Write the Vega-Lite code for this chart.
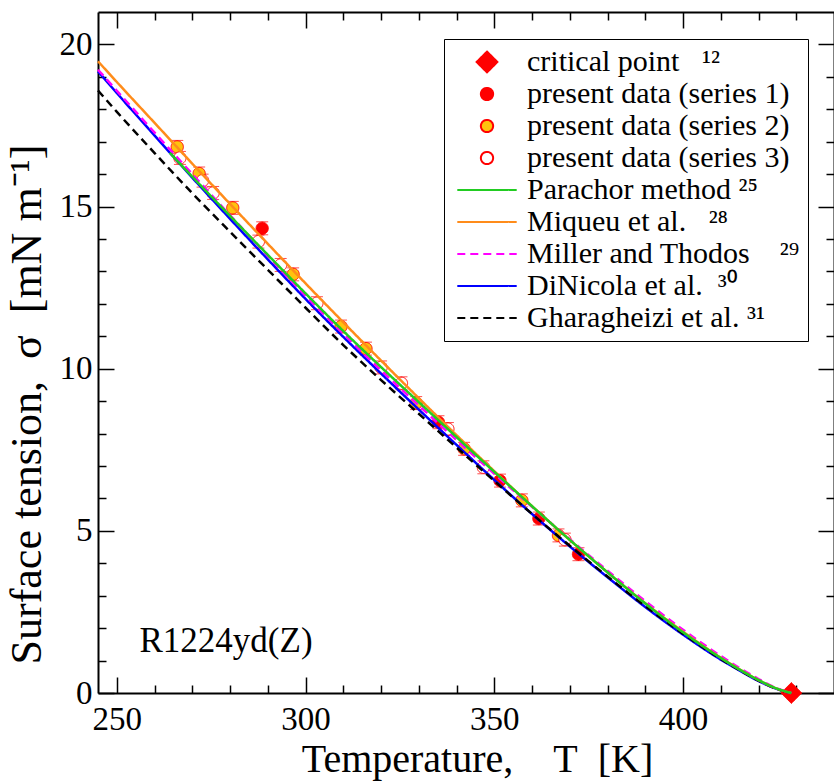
{
  "$schema": "https://vega.github.io/schema/vega-lite/v6.json",
  "width": 736,
  "height": 681,
  "autosize": "none",
  "padding": {"left": 98, "top": 12, "right": 0, "bottom": 89},
  "background": "white",
  "config": {
    "view": {"stroke": null},
    "font": "Liberation Serif",
    "style": {
      "guide-label": {"font": "Liberation Serif", "fill": "black"},
      "guide-title": {"font": "Liberation Serif", "fill": "black", "fontWeight": "normal"}
    },
    "axis": {
      "grid": false,
      "domainColor": "black",
      "domainWidth": 2,
      "tickColor": "black",
      "tickWidth": 1.5,
      "labelColor": "black",
      "labelFont": "Liberation Serif",
      "labelFontSize": 33,
      "titleFont": "Liberation Serif",
      "titleFontWeight": "normal",
      "titleColor": "black",
      "titleFontSize": 40,
      "labelOverlap": false,
      "labelFlush": false
    },
    "legend": {
      "orient": "none",
      "legendX": 346,
      "legendY": 27,
      "padding": 8,
      "strokeColor": "black",
      "fillColor": "white",
      "labelFont": "Liberation Serif",
      "labelFontSize": 30,
      "labelColor": "black",
      "labelOffset": 25,
      "symbolOffset": 20,
      "rowPadding": 2,
      "symbolSize": 150,
      "symbolStrokeWidth": 2,
      "labelLimit": 500
    }
  },
  "datasets": {
    "pts": [
      {"series": "present data (series 1)", "T": 288.5, "sigma": 14.33, "err": 0.2},
      {"series": "present data (series 1)", "T": 335.2, "sigma": 8.35, "err": 0.2},
      {"series": "present data (series 1)", "T": 351.5, "sigma": 6.55, "err": 0.2},
      {"series": "present data (series 1)", "T": 361.8, "sigma": 5.38, "err": 0.2},
      {"series": "present data (series 1)", "T": 372.3, "sigma": 4.28, "err": 0.2},
      {"series": "present data (series 2)", "T": 266.0, "sigma": 16.84, "err": 0.2},
      {"series": "present data (series 2)", "T": 271.8, "sigma": 16.02, "err": 0.2},
      {"series": "present data (series 2)", "T": 280.7, "sigma": 14.96, "err": 0.2},
      {"series": "present data (series 2)", "T": 296.7, "sigma": 12.91, "err": 0.2},
      {"series": "present data (series 2)", "T": 309.4, "sigma": 11.30, "err": 0.2},
      {"series": "present data (series 2)", "T": 316.0, "sigma": 10.62, "err": 0.2},
      {"series": "present data (series 2)", "T": 329.3, "sigma": 8.94, "err": 0.2},
      {"series": "present data (series 2)", "T": 342.0, "sigma": 7.53, "err": 0.2},
      {"series": "present data (series 2)", "T": 357.3, "sigma": 5.94, "err": 0.2},
      {"series": "present data (series 2)", "T": 367.0, "sigma": 4.86, "err": 0.2},
      {"series": "present data (series 3)", "T": 266.7, "sigma": 16.50, "err": 0.2},
      {"series": "present data (series 3)", "T": 272.7, "sigma": 15.80, "err": 0.2},
      {"series": "present data (series 3)", "T": 275.5, "sigma": 15.42, "err": 0.2},
      {"series": "present data (series 3)", "T": 287.5, "sigma": 13.92, "err": 0.2},
      {"series": "present data (series 3)", "T": 293.4, "sigma": 13.20, "err": 0.2},
      {"series": "present data (series 3)", "T": 303.0, "sigma": 12.02, "err": 0.2},
      {"series": "present data (series 3)", "T": 320.0, "sigma": 10.04, "err": 0.2},
      {"series": "present data (series 3)", "T": 325.4, "sigma": 9.55, "err": 0.2},
      {"series": "present data (series 3)", "T": 337.7, "sigma": 8.14, "err": 0.2},
      {"series": "present data (series 3)", "T": 347.1, "sigma": 6.96, "err": 0.2},
      {"series": "present data (series 3)", "T": 368.7, "sigma": 4.73, "err": 0.2},
      {"series": "critical point", "T": 428.7, "sigma": 0, "err": 0}
    ],
    "curves": [
      {"series": "DiNicola et al.", "T": 245, "sigma": 19.17},
      {"series": "DiNicola et al.", "T": 250, "sigma": 18.50},
      {"series": "DiNicola et al.", "T": 260, "sigma": 17.19},
      {"series": "DiNicola et al.", "T": 270, "sigma": 15.89},
      {"series": "DiNicola et al.", "T": 280, "sigma": 14.62},
      {"series": "DiNicola et al.", "T": 290, "sigma": 13.37},
      {"series": "DiNicola et al.", "T": 300, "sigma": 12.15},
      {"series": "DiNicola et al.", "T": 310, "sigma": 10.98},
      {"series": "DiNicola et al.", "T": 320, "sigma": 9.85},
      {"series": "DiNicola et al.", "T": 330, "sigma": 8.74},
      {"series": "DiNicola et al.", "T": 340, "sigma": 7.65},
      {"series": "DiNicola et al.", "T": 350, "sigma": 6.57},
      {"series": "DiNicola et al.", "T": 360, "sigma": 5.52},
      {"series": "DiNicola et al.", "T": 370, "sigma": 4.52},
      {"series": "DiNicola et al.", "T": 380, "sigma": 3.57},
      {"series": "DiNicola et al.", "T": 390, "sigma": 2.65},
      {"series": "DiNicola et al.", "T": 400, "sigma": 1.80},
      {"series": "DiNicola et al.", "T": 410, "sigma": 1.03},
      {"series": "DiNicola et al.", "T": 415, "sigma": 0.69},
      {"series": "DiNicola et al.", "T": 420, "sigma": 0.37},
      {"series": "DiNicola et al.", "T": 425, "sigma": 0.12},
      {"series": "DiNicola et al.", "T": 428.7, "sigma": 0},
      {"series": "Gharagheizi et al.", "T": 245, "sigma": 18.58},
      {"series": "Gharagheizi et al.", "T": 250, "sigma": 17.92},
      {"series": "Gharagheizi et al.", "T": 260, "sigma": 16.65},
      {"series": "Gharagheizi et al.", "T": 270, "sigma": 15.41},
      {"series": "Gharagheizi et al.", "T": 280, "sigma": 14.22},
      {"series": "Gharagheizi et al.", "T": 290, "sigma": 13.05},
      {"series": "Gharagheizi et al.", "T": 300, "sigma": 11.88},
      {"series": "Gharagheizi et al.", "T": 310, "sigma": 10.73},
      {"series": "Gharagheizi et al.", "T": 320, "sigma": 9.65},
      {"series": "Gharagheizi et al.", "T": 330, "sigma": 8.61},
      {"series": "Gharagheizi et al.", "T": 340, "sigma": 7.57},
      {"series": "Gharagheizi et al.", "T": 350, "sigma": 6.54},
      {"series": "Gharagheizi et al.", "T": 360, "sigma": 5.52},
      {"series": "Gharagheizi et al.", "T": 370, "sigma": 4.54},
      {"series": "Gharagheizi et al.", "T": 380, "sigma": 3.59},
      {"series": "Gharagheizi et al.", "T": 390, "sigma": 2.68},
      {"series": "Gharagheizi et al.", "T": 400, "sigma": 1.83},
      {"series": "Gharagheizi et al.", "T": 410, "sigma": 1.05},
      {"series": "Gharagheizi et al.", "T": 415, "sigma": 0.70},
      {"series": "Gharagheizi et al.", "T": 420, "sigma": 0.38},
      {"series": "Gharagheizi et al.", "T": 425, "sigma": 0.12},
      {"series": "Gharagheizi et al.", "T": 428.7, "sigma": 0},
      {"series": "Miller and Thodos", "T": 245, "sigma": 19.22},
      {"series": "Miller and Thodos", "T": 250, "sigma": 18.57},
      {"series": "Miller and Thodos", "T": 260, "sigma": 17.28},
      {"series": "Miller and Thodos", "T": 270, "sigma": 16.00},
      {"series": "Miller and Thodos", "T": 280, "sigma": 14.73},
      {"series": "Miller and Thodos", "T": 290, "sigma": 13.48},
      {"series": "Miller and Thodos", "T": 300, "sigma": 12.25},
      {"series": "Miller and Thodos", "T": 310, "sigma": 11.08},
      {"series": "Miller and Thodos", "T": 320, "sigma": 9.95},
      {"series": "Miller and Thodos", "T": 330, "sigma": 8.87},
      {"series": "Miller and Thodos", "T": 340, "sigma": 7.80},
      {"series": "Miller and Thodos", "T": 350, "sigma": 6.76},
      {"series": "Miller and Thodos", "T": 360, "sigma": 5.74},
      {"series": "Miller and Thodos", "T": 370, "sigma": 4.74},
      {"series": "Miller and Thodos", "T": 380, "sigma": 3.77},
      {"series": "Miller and Thodos", "T": 390, "sigma": 2.83},
      {"series": "Miller and Thodos", "T": 400, "sigma": 1.95},
      {"series": "Miller and Thodos", "T": 410, "sigma": 1.14},
      {"series": "Miller and Thodos", "T": 415, "sigma": 0.77},
      {"series": "Miller and Thodos", "T": 420, "sigma": 0.43},
      {"series": "Miller and Thodos", "T": 425, "sigma": 0.14},
      {"series": "Miller and Thodos", "T": 428.7, "sigma": 0},
      {"series": "Miqueu et al.", "T": 245, "sigma": 19.48},
      {"series": "Miqueu et al.", "T": 250, "sigma": 18.84},
      {"series": "Miqueu et al.", "T": 260, "sigma": 17.58},
      {"series": "Miqueu et al.", "T": 270, "sigma": 16.32},
      {"series": "Miqueu et al.", "T": 280, "sigma": 15.08},
      {"series": "Miqueu et al.", "T": 290, "sigma": 13.85},
      {"series": "Miqueu et al.", "T": 300, "sigma": 12.63},
      {"series": "Miqueu et al.", "T": 310, "sigma": 11.43},
      {"series": "Miqueu et al.", "T": 320, "sigma": 10.25},
      {"series": "Miqueu et al.", "T": 330, "sigma": 9.09},
      {"series": "Miqueu et al.", "T": 340, "sigma": 7.95},
      {"series": "Miqueu et al.", "T": 350, "sigma": 6.84},
      {"series": "Miqueu et al.", "T": 360, "sigma": 5.76},
      {"series": "Miqueu et al.", "T": 370, "sigma": 4.72},
      {"series": "Miqueu et al.", "T": 380, "sigma": 3.72},
      {"series": "Miqueu et al.", "T": 390, "sigma": 2.77},
      {"series": "Miqueu et al.", "T": 400, "sigma": 1.89},
      {"series": "Miqueu et al.", "T": 410, "sigma": 1.09},
      {"series": "Miqueu et al.", "T": 415, "sigma": 0.73},
      {"series": "Miqueu et al.", "T": 420, "sigma": 0.40},
      {"series": "Miqueu et al.", "T": 425, "sigma": 0.13},
      {"series": "Miqueu et al.", "T": 428.7, "sigma": 0},
      {"series": "Parachor method", "T": 264, "sigma": 16.66},
      {"series": "Parachor method", "T": 270, "sigma": 15.92},
      {"series": "Parachor method", "T": 280, "sigma": 14.71},
      {"series": "Parachor method", "T": 290, "sigma": 13.51},
      {"series": "Parachor method", "T": 300, "sigma": 12.32},
      {"series": "Parachor method", "T": 310, "sigma": 11.16},
      {"series": "Parachor method", "T": 320, "sigma": 10.05},
      {"series": "Parachor method", "T": 330, "sigma": 8.97},
      {"series": "Parachor method", "T": 340, "sigma": 7.89},
      {"series": "Parachor method", "T": 350, "sigma": 6.82},
      {"series": "Parachor method", "T": 360, "sigma": 5.76},
      {"series": "Parachor method", "T": 370, "sigma": 4.72},
      {"series": "Parachor method", "T": 380, "sigma": 3.72},
      {"series": "Parachor method", "T": 390, "sigma": 2.76},
      {"series": "Parachor method", "T": 400, "sigma": 1.87},
      {"series": "Parachor method", "T": 410, "sigma": 1.08},
      {"series": "Parachor method", "T": 415, "sigma": 0.72},
      {"series": "Parachor method", "T": 420, "sigma": 0.40},
      {"series": "Parachor method", "T": 425, "sigma": 0.13},
      {"series": "Parachor method", "T": 428.7, "sigma": 0}
    ],
    "notes": [
      {"T": 256, "sigma": 1.6, "label": "R1224yd(Z)"}
    ]
  },
  "layer": [
    {
      "data": {"name": "pts"},
      "transform": [{"filter": "datum.err > 0"}],
      "mark": {"type": "errorbar", "ticks": {"size": 12, "thickness": 1}, "color": "#ff0000", "thickness": 1},
      "encoding": {
        "x": {"field": "T", "type": "quantitative", "scale": {"domain": [245, 440], "nice": false, "zero": false}, "axis": null},
        "y": {"field": "sigma", "type": "quantitative", "scale": {"domain": [0, 21], "nice": false, "zero": false}, "axis": null},
        "yError": {"field": "err"}
      }
    },
    {
      "data": {"name": "pts"},
      "mark": {"type": "point", "opacity": 1, "strokeWidth": 1, "size": 150, "clip": false},
      "encoding": {
        "x": {
          "field": "T", "type": "quantitative",
          "scale": {"domain": [245, 440], "nice": false, "zero": false},
          "axis": {
            "orient": "bottom",
            "values": [250, 260, 270, 280, 290, 300, 310, 320, 330, 340, 350, 360, 370, 380, 390, 400, 410, 420, 430],
            "labelExpr": "datum.value % 50 === 0 ? datum.label : ''",
            "tickSize": {"condition": {"test": "datum.value % 50 === 0", "value": -16}, "value": -8},
            "labelPadding": 26,
            "labelFont": "Liberation Serif",
            "labelFontSize": 33,
            "title": "Temperature,\u2003T\u2002[K]",
            "titleFont": "Liberation Serif",
            "titleFontSize": 40,
            "titleBaseline": "alphabetic",
            "titleY": 78,
            "titleX": 379
          }
        },
        "y": {
          "field": "sigma", "type": "quantitative",
          "scale": {"domain": [0, 21], "nice": false, "zero": false},
          "axis": {
            "orient": "left",
            "values": [0, 1, 2, 3, 4, 5, 6, 7, 8, 9, 10, 11, 12, 13, 14, 15, 16, 17, 18, 19, 20],
            "labelExpr": "datum.value % 5 === 0 ? datum.label : ''",
            "tickSize": {"condition": {"test": "datum.value % 5 === 0", "value": -16}, "value": -8},
            "labelPadding": 22,
            "labelFont": "Liberation Serif",
            "labelFontSize": 33,
            "title": "Surface tension,\u2002σ\u2002[mN m⁻¹]",
            "titleFont": "Liberation Serif",
            "titleFontSize": 44,
            "titlePadding": 10,
            "titleY": 392
          }
        },
        "stroke": {
          "field": "series", "type": "nominal",
          "scale": {
            "domain": ["critical point", "present data (series 1)", "present data (series 2)", "present data (series 3)", "Parachor method", "Miqueu et al.", "Miller and Thodos", "DiNicola et al.", "Gharagheizi et al."],
            "range": ["#ff0000", "#ff0000", "#ff0000", "#ff0000", "#22cc22", "#ff8c1a", "#ff00ff", "#0000ff", "#000000"]
          },
          "legend": {"title": null, "labelFont": "Liberation Serif", "labelExpr": "datum.label === 'critical point' ? 'critical point\u2002 ¹²' : datum.label === 'Parachor method' ? 'Parachor method ²⁵' : datum.label === 'Miqueu et al.' ? 'Miqueu et al.\u2002 ²⁸' : datum.label === 'Miller and Thodos' ? 'Miller and Thodos\u2003²⁹' : datum.label === 'DiNicola et al.' ? 'DiNicola et al.\u2002³⁰' : datum.label === 'Gharagheizi et al.' ? 'Gharagheizi et al. ³¹' : datum.label"}
        },
        "fill": {
          "field": "series", "type": "nominal",
          "scale": {
            "domain": ["critical point", "present data (series 1)", "present data (series 2)", "present data (series 3)", "Parachor method", "Miqueu et al.", "Miller and Thodos", "DiNicola et al.", "Gharagheizi et al."],
            "range": ["#ff0000", "#ff0000", "#ffc20e", "#ffffff", "transparent", "transparent", "transparent", "transparent", "transparent"]
          },
          "legend": {"title": null, "labelFont": "Liberation Serif", "labelExpr": "datum.label === 'critical point' ? 'critical point\u2002 ¹²' : datum.label === 'Parachor method' ? 'Parachor method ²⁵' : datum.label === 'Miqueu et al.' ? 'Miqueu et al.\u2002 ²⁸' : datum.label === 'Miller and Thodos' ? 'Miller and Thodos\u2003²⁹' : datum.label === 'DiNicola et al.' ? 'DiNicola et al.\u2002³⁰' : datum.label === 'Gharagheizi et al.' ? 'Gharagheizi et al. ³¹' : datum.label"}
        },
        "shape": {
          "field": "series", "type": "nominal",
          "scale": {
            "domain": ["critical point", "present data (series 1)", "present data (series 2)", "present data (series 3)", "Parachor method", "Miqueu et al.", "Miller and Thodos", "DiNicola et al.", "Gharagheizi et al."],
            "range": ["M-1.7,0L0,-1.7L1.7,0L0,1.7Z", "circle", "circle", "circle", "M-4.85,0H4.85", "M-4.85,0H4.85", "M-4.85,0H4.85", "M-4.85,0H4.85", "M-4.85,0H4.85"]
          },
          "legend": {"title": null, "labelFont": "Liberation Serif", "labelExpr": "datum.label === 'critical point' ? 'critical point\u2002 ¹²' : datum.label === 'Parachor method' ? 'Parachor method ²⁵' : datum.label === 'Miqueu et al.' ? 'Miqueu et al.\u2002 ²⁸' : datum.label === 'Miller and Thodos' ? 'Miller and Thodos\u2003²⁹' : datum.label === 'DiNicola et al.' ? 'DiNicola et al.\u2002³⁰' : datum.label === 'Gharagheizi et al.' ? 'Gharagheizi et al. ³¹' : datum.label"}
        },
        "strokeDash": {
          "field": "series", "type": "nominal",
          "scale": {
            "domain": ["critical point", "present data (series 1)", "present data (series 2)", "present data (series 3)", "Parachor method", "Miqueu et al.", "Miller and Thodos", "DiNicola et al.", "Gharagheizi et al."],
            "range": [[1, 0], [1, 0], [1, 0], [1, 0], [1, 0], [1, 0], [8, 5], [1, 0], [8, 5]]
          },
          "legend": {"title": null, "labelFont": "Liberation Serif", "labelExpr": "datum.label === 'critical point' ? 'critical point\u2002 ¹²' : datum.label === 'Parachor method' ? 'Parachor method ²⁵' : datum.label === 'Miqueu et al.' ? 'Miqueu et al.\u2002 ²⁸' : datum.label === 'Miller and Thodos' ? 'Miller and Thodos\u2003²⁹' : datum.label === 'DiNicola et al.' ? 'DiNicola et al.\u2002³⁰' : datum.label === 'Gharagheizi et al.' ? 'Gharagheizi et al. ³¹' : datum.label"}
        }
      }
    },
    {
      "data": {"name": "curves"},
      "mark": {"type": "line", "strokeWidth": 2.5, "interpolate": "monotone"},
      "encoding": {
        "x": {
          "field": "T", "type": "quantitative",
          "scale": {"domain": [245, 440], "nice": false, "zero": false},
          "axis": {
            "orient": "top",
            "values": [250, 260, 270, 280, 290, 300, 310, 320, 330, 340, 350, 360, 370, 380, 390, 400, 410, 420, 430],
            "labels": false,
            "tickSize": {"condition": {"test": "datum.value % 50 === 0", "value": -16}, "value": -8},
            "title": null
          }
        },
        "y": {
          "field": "sigma", "type": "quantitative",
          "scale": {"domain": [0, 21], "nice": false, "zero": false},
          "axis": {
            "orient": "right",
            "values": [0, 1, 2, 3, 4, 5, 6, 7, 8, 9, 10, 11, 12, 13, 14, 15, 16, 17, 18, 19, 20],
            "labels": false,
            "tickSize": {"condition": {"test": "datum.value % 5 === 0", "value": -16}, "value": -8},
            "title": null
          }
        },
        "stroke": {"field": "series", "type": "nominal", "legend": null},
        "strokeDash": {"field": "series", "type": "nominal", "legend": null}
      }
    },
    {
      "data": {"name": "notes"},
      "mark": {"type": "text", "align": "left", "baseline": "middle", "fontSize": 35, "font": "Liberation Serif", "color": "black"},
      "encoding": {
        "x": {"field": "T", "type": "quantitative", "axis": null},
        "y": {"field": "sigma", "type": "quantitative", "axis": null},
        "text": {"field": "label"}
      }
    }
  ],
  "resolve": {"axis": {"x": "independent", "y": "independent"}}
}
